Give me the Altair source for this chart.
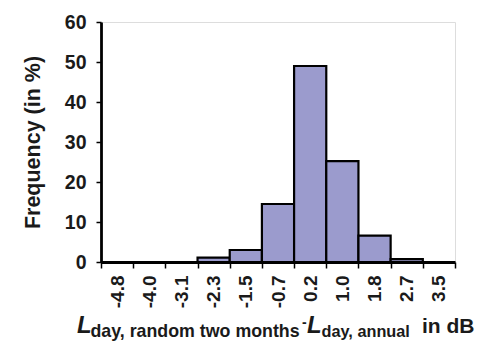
import altair as alt
import pandas as pd

bin_labels = ["-4.8", "-4.0", "-3.1", "-2.3", "-1.5", "-0.7", "0.2", "1.0", "1.8", "2.7", "3.5"]
freq = [0.0, 0.0, 0.0, 1.1, 3.0, 14.5, 49.0, 25.2, 6.6, 0.7, 0.0]

df = pd.DataFrame({
    "label": bin_labels,
    "start": list(range(len(bin_labels))),
    "end": [i + 1 for i in range(len(bin_labels))],
    "freq": freq,
})

W, H = 354, 240
FONT = "Liberation Sans"
TXT = "#1a1a1a"

label_arr = "[" + ",".join("'" + l + "'" for l in bin_labels) + "]"

bars = alt.Chart(df).mark_bar(
    color="#9b9bcd", stroke="black", strokeWidth=2.2
).encode(
    x=alt.X("start:Q",
            scale=alt.Scale(domain=[0, len(bin_labels)], nice=False, zero=False),
            axis=alt.Axis(values=list(range(len(bin_labels) + 1)),
                          labelExpr="datum.value < %d ? %s[datum.value] : ''" % (len(bin_labels), label_arr),
                          labelAngle=-90, labelAlign="right", labelBaseline="middle",
                          labelOffset=W / len(bin_labels) / 2,
                          labelFontSize=19, labelFont=FONT, labelFontWeight="bold",
                          labelColor=TXT, labelPadding=7,
                          tickSize=6, tickWidth=1.5, tickColor="black",
                          domainColor="black", domainWidth=2.8,
                          grid=False, title=None)),
    x2="end:Q",
    y=alt.Y("freq:Q",
            scale=alt.Scale(domain=[0, 60], nice=False),
            axis=alt.Axis(values=[0, 10, 20, 30, 40, 50, 60],
                          labelFontSize=19.5, labelFont=FONT, labelFontWeight="bold",
                          labelColor=TXT, labelPadding=10,
                          tickSize=5, tickWidth=1.5, tickColor="black",
                          domainColor="black", domainWidth=2.8,
                          grid=False,
                          title="Frequency (in %)", titleFont=FONT,
                          titleFontSize=21.5, titleFontWeight="bold",
                          titleColor=TXT, titlePadding=20)),
    y2=alt.datum(0),
)

def txt(s, x, y, size, italic=False):
    return alt.Chart(pd.DataFrame({"t": [s]})).mark_text(
        align="left", baseline="alphabetic", font=FONT, fontSize=size,
        fontWeight="bold", fontStyle="italic" if italic else "normal", color=TXT
    ).encode(text="t:N", x=alt.value(x), y=alt.value(y))

title_parts = [
    txt("L", -24, 311, 24, italic=True),
    txt("day, random two months", -10.5, 315, 17.8),
    txt("-", 201, 305, 14),
    txt("L", 206, 311, 24, italic=True),
    txt("day, annual", 220.5, 315, 16.3),
    txt("in dB", 321, 311, 21),
]

chart = alt.layer(bars, *title_parts).properties(
    width=W, height=H,
    autosize=alt.AutoSizeParams(type="none"),
    padding={"left": 93, "top": 14, "right": 37, "bottom": 86},
).configure_view(
    stroke="black", strokeWidth=2.8
).configure(background="white")

chart.save("out.html", embed_options={"renderer": "svg", "actions": False})
